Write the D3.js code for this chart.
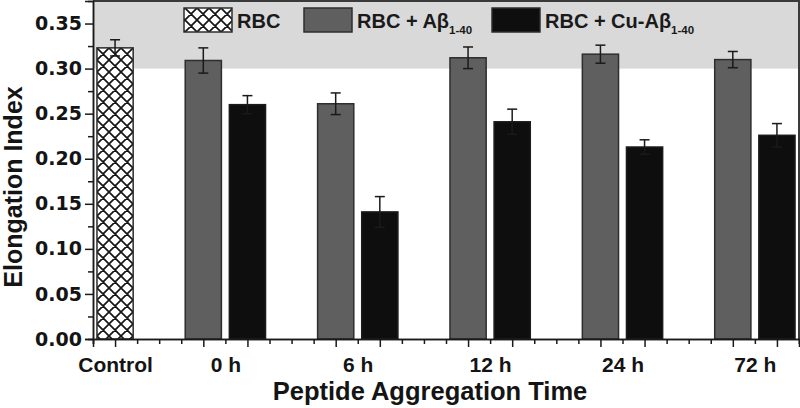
<!DOCTYPE html>
<html>
<head>
<meta charset="utf-8">
<script src="https://cdn.jsdelivr.net/npm/d3@7/dist/d3.min.js"></script>
<style>
  body { margin: 0; background: #fff; }
  svg { display: block; }
</style>
</head>
<body>
<div id="chart"></div>
<script>
// Chart data
var categories = ["Control", "0 h", "6 h", "12 h", "24 h", "72 h"];
var seriesNames = ["RBC", "RBC + A\u03b2", "RBC + Cu-A\u03b2"];
var seriesSubs = ["", "1-40", "1-40"];
var controlValues = [0.323];
var controlErrors = [0.009];
var abValues = [0.309, 0.261, 0.312, 0.316, 0.310];
var abErrors = [0.014, 0.012, 0.012, 0.010, 0.009];
var cuValues = [0.260, 0.141, 0.241, 0.213, 0.226];
var cuErrors = [0.010, 0.017, 0.014, 0.008, 0.013];
var yMajorTicks = [0, 0.05, 0.10, 0.15, 0.20, 0.25, 0.30, 0.35];
var yMinorTicks = [0.025, 0.075, 0.125, 0.175, 0.225, 0.275, 0.325];
var shadeFrom = 0.30;

// SVG area
var svgWidth = 800;
var svgHeight = 408;
var plot = { left: 93, right: 799, top: 1, bottom: 339 };

var svg = d3.select("#chart")
  .append("svg")
  .attr("width", svgWidth)
  .attr("height", svgHeight);

// hatch pattern for the control bar
var defs = svg.append("defs");
var pat = defs.append("pattern")
  .attr("id", "hatch")
  .attr("patternUnits", "userSpaceOnUse")
  .attr("width", 12)
  .attr("height", 12)
  .attr("x", 97)
  .attr("y", 0);
pat.append("rect").attr("width", 12).attr("height", 12).attr("fill", "#fff");
pat.append("path")
  .attr("d", "M0,0L12,12M12,0L0,12M-3,9L3,15M9,-3L15,3M-3,3L3,-3M9,15L15,9")
  .attr("stroke", "#151515")
  .attr("stroke-width", 1.7);

// Scales: x is a numeric axis like the original, one unit per minor tick
var x = d3.scaleLinear().domain([0, 32]).range([plot.left, plot.right]);
var y = d3.scaleLinear().domain([0, 0.375]).range([plot.bottom, plot.top]);
var barW = x(1.64) - x(0);

// bar list: control at 1, each time group centred at 6, 12, ...; grey left, black right
var bars = [];
controlValues.forEach(function(v, i) {
  bars.push({ s: 0, pos: 1, v: v, e: controlErrors[i] });
});
abValues.forEach(function(v, i) {
  bars.push({ s: 1, pos: 6 + 6 * i - 1, v: v, e: abErrors[i] });
  bars.push({ s: 2, pos: 6 + 6 * i + 1, v: cuValues[i], e: cuErrors[i] });
});
var labelPos = categories.map(function(c, i) { return i === 0 ? 1 : 6 * i; });

var fills = ["url(#hatch)", "#5f5f5f", "#0e0e0e"];
var strokes = ["#2a2a2a", "#2e2e2e", "#1c1c1c"];

// shaded band above 0.30
svg.append("rect")
  .attr("x", plot.left)
  .attr("y", plot.top)
  .attr("width", plot.right - plot.left)
  .attr("height", y(shadeFrom) - plot.top)
  .attr("fill", "#d9d9d9");

// bars
svg.selectAll("rect.bar")
  .data(bars)
  .enter()
  .append("rect")
  .attr("class", "bar")
  .attr("x", d => x(d.pos) - barW / 2)
  .attr("y", d => y(d.v))
  .attr("width", barW)
  .attr("height", d => y(0) - y(d.v))
  .attr("fill", d => fills[d.s])
  .attr("stroke", d => strokes[d.s])
  .attr("stroke-width", 1.5);

// error bars
var err = svg.selectAll("g.err")
  .data(bars)
  .enter()
  .append("g")
  .attr("class", "err")
  .attr("stroke", "#1a1a1a")
  .attr("stroke-width", 1.5);
err.append("line")
  .attr("x1", d => x(d.pos)).attr("x2", d => x(d.pos))
  .attr("y1", d => y(d.v - d.e)).attr("y2", d => y(d.v + d.e));
err.append("line")
  .attr("x1", d => x(d.pos) - 5).attr("x2", d => x(d.pos) + 5)
  .attr("y1", d => y(d.v + d.e)).attr("y2", d => y(d.v + d.e));
err.append("line")
  .attr("x1", d => x(d.pos) - 5).attr("x2", d => x(d.pos) + 5)
  .attr("y1", d => y(d.v - d.e)).attr("y2", d => y(d.v - d.e));

// frame (top and right)
svg.append("path")
  .attr("d", `M${plot.left},${plot.top}H${plot.right}V${plot.bottom}`)
  .attr("fill", "none")
  .attr("stroke", "#3a3a3a")
  .attr("stroke-width", 2);

// y axis
var yMinor = svg.append("g")
  .attr("transform", `translate(${plot.left},0)`)
  .call(d3.axisLeft(y).tickValues(yMinorTicks).tickSize(5).tickFormat(""));
var yMajor = svg.append("g")
  .attr("transform", `translate(${plot.left},0)`)
  .call(d3.axisLeft(y).tickValues(yMajorTicks).tickSize(8).tickPadding(3)
    .tickFormat(d3.format(".2f")));
yMajor.selectAll("text")
  .style("font-family", "'DejaVu Sans', sans-serif")
  .style("font-weight", "bold")
  .style("font-size", "19px")
  .attr("fill", "#141414");

// x axis
var majorX = bars.map(d => d.pos);
var minorX = d3.range(0, 33).filter(v => majorX.indexOf(v) < 0);
var xMinor = svg.append("g")
  .attr("transform", `translate(0,${plot.bottom})`)
  .call(d3.axisBottom(x).tickValues(minorX).tickSize(5).tickFormat(""));
var xMajor = svg.append("g")
  .attr("transform", `translate(0,${plot.bottom})`)
  .call(d3.axisBottom(x).tickValues(majorX).tickSize(8).tickFormat(""));
var xLabels = svg.append("g")
  .attr("transform", `translate(0,${plot.bottom})`)
  .call(d3.axisBottom(x).tickValues(labelPos).tickSize(0).tickPadding(18)
    .tickFormat((d, i) => categories[i]));
xLabels.select(".domain").remove();
xLabels.selectAll("text")
  .style("font-family", "'Liberation Sans', Arial, sans-serif")
  .style("font-weight", "bold")
  .style("font-size", "21px")
  .attr("fill", "#141414");

[yMinor, yMajor, xMinor, xMajor].forEach(function(g) {
  g.selectAll("line").attr("stroke", "#1a1a1a").attr("stroke-width", 1.5);
  g.select(".domain").attr("stroke", "#1a1a1a").attr("stroke-width", 1.5);
});

// axis titles
svg.append("text")
  .attr("transform", "translate(22,187) rotate(-90)")
  .attr("text-anchor", "middle")
  .style("font-family", "'Liberation Sans', Arial, sans-serif")
  .style("font-weight", "bold")
  .style("font-size", "25px")
  .attr("fill", "#141414")
  .text("Elongation Index");

svg.append("text")
  .attr("x", 430)
  .attr("y", 400)
  .attr("text-anchor", "middle")
  .style("font-family", "'Liberation Sans', Arial, sans-serif")
  .style("font-weight", "bold")
  .style("font-size", "25.5px")
  .attr("fill", "#141414")
  .text("Peptide Aggregation Time");

// legend
var legendX = [184, 304, 492];
var legend = svg.selectAll("g.legend")
  .data(seriesNames)
  .enter()
  .append("g")
  .attr("class", "legend")
  .attr("transform", (d, i) => `translate(${legendX[i]},8)`);
legend.append("rect")
  .attr("width", 48)
  .attr("height", 24)
  .attr("fill", (d, i) => fills[i])
  .attr("stroke", "#2e2e2e")
  .attr("stroke-width", 1.5);
var lt = legend.append("text")
  .attr("x", 53)
  .attr("y", 20)
  .style("font-family", "'Liberation Sans', Arial, sans-serif")
  .style("font-weight", "bold")
  .style("font-size", "20px")
  .attr("fill", "#1a1a1a");
lt.append("tspan").text(d => d);
lt.append("tspan")
  .attr("dy", 6)
  .style("font-size", "11.5px")
  .text((d, i) => seriesSubs[i]);
</script>
</body>
</html>
